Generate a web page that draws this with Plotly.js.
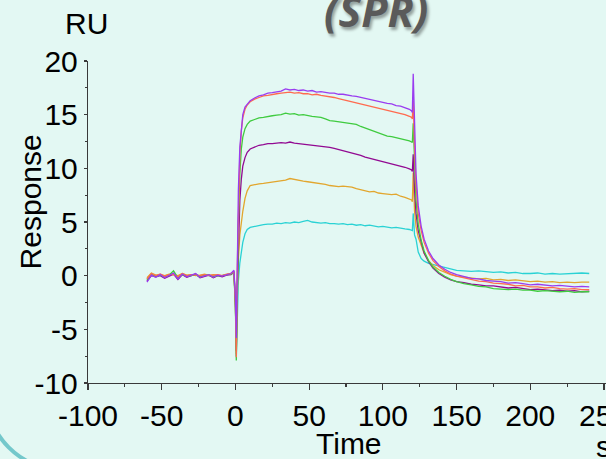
<!DOCTYPE html>
<html>
<head>
<meta charset="utf-8">
<script src="https://cdn.plot.ly/plotly-3.0.1.min.js"></script>
<style>
html,body{margin:0;padding:0;width:606px;height:459px;overflow:hidden;background:#e3f8f3;}
#frame{position:absolute;left:-15px;top:-300px;width:900px;height:771px;border:4px solid #74c8cb;border-radius:76px;box-sizing:border-box;}
#plot{position:absolute;left:0;top:0;width:606px;height:459px;}
</style>
</head>
<body>
<div id="frame"></div>
<div id="plot"></div>
<script>
// Time (s)
const time = [
  -60,-57,-54,-51,-48,-45,-42,-39,-36,-33,-30,-27,-24,-21,-18,-15,-12,-9,-6,-3,-1,
  0,0.6,1.2,2,3,4,5,6.5,8,10,
  13,16,19,22,25,28,31,34,37,40,43,46,49,52,55,58,61,64,67,70,73,76,79,82,85,88,91,94,97,100,103,106,109,112,115,118,119.5,
  120,120.6,121.5,122.5,124,126,128,131,134,138,142,146,150,
  155,160,165,170,175,180,185,190,195,200,205,210,215,220,225,230,235,240
];
// Response (RU) per concentration
const seriesPurple = [
  -0.6,0.05,-0.15,0.1,-0.2,0.0,0.25,-0.3,0.15,-0.1,0.05,0.2,-0.15,0.0,0.1,-0.15,0.05,-0.05,0.1,0.2,0.5,
  -2.0,-5.8,2.0,8.0,12.0,14.0,15.0,15.7,16.0,16.3,
  16.55,16.75,16.85,17.0,17.05,17.15,17.2,17.4,17.3,17.35,17.25,17.3,17.2,17.25,17.1,17.15,17.05,17.0,17.0,16.9,16.9,16.8,16.75,16.7,16.6,16.55,16.45,16.35,16.25,16.15,16.05,16.0,15.85,15.8,15.65,15.5,15.35,
  15.2,18.8,13.0,9.5,6.5,4.6,3.4,2.3,1.6,1.0,0.6,0.3,0.1,
  -0.1,-0.25,-0.3,-0.45,-0.5,-0.55,-0.7,-0.65,-0.75,-0.85,-0.8,-0.9,-0.95,-0.9,-1.0,-1.05,-1.0,-1.05
];
const seriesTomato = [
  -0.3,0.2,0.0,0.15,-0.05,0.1,0.1,-0.1,0.2,0.0,0.1,0.05,0.0,0.1,0.0,0.05,0.1,0.0,0.15,0.2,0.4,
  -2.5,-7.6,0.5,7.0,11.3,13.5,14.7,15.5,15.9,16.2,
  16.45,16.6,16.75,16.8,16.9,16.95,17.0,17.05,17.1,17.0,17.05,16.95,16.95,16.85,16.9,16.8,16.75,16.65,16.6,16.5,16.4,16.35,16.25,16.15,16.05,15.95,15.85,15.75,15.6,15.5,15.4,15.3,15.25,15.1,15.0,14.85,14.75,
  14.6,16.3,12.0,8.5,5.8,4.2,3.1,2.1,1.4,0.85,0.45,0.15,-0.05,
  -0.2,-0.35,-0.5,-0.55,-0.7,-0.75,-0.8,-0.95,-0.9,-1.05,-1.05,-1.15,-1.1,-1.2,-1.25,-1.2,-1.3,-1.3
];
const seriesGreen = [
  -0.4,0.1,-0.05,0.05,-0.1,0.05,0.45,-0.2,0.1,-0.05,0.0,0.1,-0.1,0.05,0.05,-0.1,0.0,0.0,0.1,0.15,0.3,
  -3.0,-7.9,-1.0,5.0,9.5,11.8,12.9,13.7,14.1,14.4,
  14.55,14.7,14.75,14.85,14.9,14.95,15.0,15.15,15.05,15.1,14.95,15.0,14.9,14.85,14.8,14.75,14.6,14.45,14.4,14.35,14.3,14.25,14.15,14.1,13.9,13.75,13.6,13.5,13.3,13.15,13.0,12.95,12.85,12.8,12.65,12.55,12.45,
  12.4,14.2,10.0,7.0,4.8,3.3,2.3,1.4,0.8,0.3,-0.05,-0.35,-0.55,
  -0.75,-0.85,-1.0,-1.05,-1.2,-1.25,-1.3,-1.25,-1.35,-1.35,-1.45,-1.4,-1.45,-1.5,-1.45,-1.55,-1.5,-1.5
];
const seriesMagenta = [
  -0.5,0.0,-0.1,0.0,-0.25,-0.05,0.15,-0.35,0.1,-0.15,0.0,0.15,-0.2,-0.05,0.05,-0.2,0.0,-0.1,0.05,0.1,0.35,
  -2.5,-7.0,-1.5,3.5,7.0,9.0,10.2,11.0,11.5,11.8,
  12.0,12.15,12.2,12.3,12.3,12.35,12.4,12.35,12.45,12.35,12.3,12.25,12.2,12.15,12.1,12.1,12.0,11.95,11.85,11.75,11.65,11.55,11.4,11.35,11.2,11.05,10.95,10.85,10.7,10.6,10.5,10.4,10.3,10.2,10.1,9.95,9.85,
  9.7,11.3,8.0,5.8,4.2,3.0,2.1,1.3,0.7,0.2,-0.15,-0.4,-0.55,
  -0.65,-0.8,-0.85,-0.95,-0.95,-1.05,-1.15,-1.1,-1.2,-1.3,-1.25,-1.35,-1.4,-1.35,-1.45,-1.4,-1.5,-1.45
];
const seriesOrange = [
  -0.2,0.25,0.05,0.1,0.0,0.15,0.1,0.0,0.2,0.05,0.1,0.0,0.05,0.15,0.05,0.1,0.05,0.0,0.1,0.15,0.25,
  -2.7,-7.3,-2.5,1.5,3.8,5.0,6.0,7.2,7.9,8.4,
  8.5,8.55,8.6,8.65,8.7,8.75,8.85,8.9,9.05,8.95,8.85,8.8,8.75,8.7,8.65,8.6,8.5,8.4,8.35,8.3,8.35,8.3,8.25,8.1,8.0,7.9,7.8,7.85,7.7,7.65,7.6,7.55,7.6,7.4,7.3,7.15,7.05,
  6.9,9.6,6.0,4.6,3.6,2.8,2.1,1.4,0.95,0.55,0.3,0.1,-0.05,
  -0.15,-0.2,-0.3,-0.25,-0.4,-0.35,-0.45,-0.4,-0.5,-0.55,-0.5,-0.6,-0.55,-0.65,-0.6,-0.65,-0.6,-0.6
];
const seriesCyan = [
  -0.3,0.1,0.0,0.05,-0.05,0.1,0.2,-0.1,0.15,0.0,0.05,0.1,-0.05,0.05,0.0,0.0,0.05,0.0,0.1,0.15,0.3,
  -2.8,-7.5,-3.5,-0.5,1.2,2.4,3.1,3.9,4.3,4.5,
  4.6,4.7,4.75,4.8,4.8,4.9,4.85,4.95,4.9,5.0,4.95,5.05,5.15,5.0,4.95,4.9,4.95,4.85,4.85,4.8,4.85,4.75,4.8,4.7,4.75,4.65,4.7,4.6,4.55,4.6,4.5,4.45,4.5,4.4,4.35,4.3,4.25,
  4.2,5.8,3.8,3.4,2.2,1.6,1.35,1.15,1.05,0.9,0.75,0.6,0.5,
  0.45,0.4,0.45,0.35,0.3,0.35,0.25,0.3,0.2,0.2,0.25,0.15,0.2,0.15,0.2,0.2,0.25,0.2
];
const xTickVals = [-100,-50,0,50,100,150,200,250];
const xTickText = ['-100','-50','0','50','100','150','200','250'];
const yTickVals = [-10,-5,0,5,10,15,20];
const yTickText = ['-10','-5','0','5','10','15','20'];

const seriesList = [
  {y: seriesCyan, color: '#2ad2d4'},
  {y: seriesOrange, color: '#e2a62e'},
  {y: seriesMagenta, color: '#920a92'},
  {y: seriesGreen, color: '#3fcb3f'},
  {y: seriesTomato, color: '#ff6b4f'},
  {y: seriesPurple, color: '#9a3cf0'}
];
const traces = seriesList.map(s => ({
  x: time, y: s.y, type: 'scatter', mode: 'lines',
  line: {color: s.color, width: 1.3}, hoverinfo: 'skip', showlegend: false
}));

const L = 87.8, T = 60.7, W = 518.2, H = 322.3;
const px = v => (v - L) / W;
const py = v => (T + H - v) / H;
const font = {family: 'Arial, "Liberation Sans", sans-serif', size: 30, color: '#000'};

const layout = {
  width: 606, height: 459,
  margin: {l: L, r: 606 - L - W, t: T, b: 459 - T - H, autoexpand: false},
  paper_bgcolor: 'rgba(0,0,0,0)', plot_bgcolor: 'rgba(0,0,0,0)',
  showlegend: false,
  xaxis: {
    range: [-100, -100 + W / 1.4748], tickmode: 'array', tickvals: xTickVals, ticktext: xTickText,
    showgrid: false, zeroline: false, showline: true, linecolor: '#3a3a3a', linewidth: 1.2,
    ticks: 'outside', ticklen: 6, tickcolor: '#3a3a3a', tickwidth: 1.2, tickfont: font,
    ticklabeloverflow: 'allow',
    minor: {tickmode: 'linear', tick0: 0, dtick: 25, ticks: 'outside', ticklen: 3, tickcolor: '#3a3a3a', showgrid: false},
    automargin: false
  },
  yaxis: {
    range: [-10, 20], tickmode: 'array', tickvals: yTickVals, ticktext: yTickText,
    showgrid: false, zeroline: false, showline: true, linecolor: '#3a3a3a', linewidth: 1.2,
    ticks: 'outside', ticklen: 3, tickcolor: '#3a3a3a', tickwidth: 1.2, tickfont: font,
    ticklabeloverflow: 'allow',
    minor: {tickmode: 'linear', tick0: 0, dtick: 2.5, ticks: 'outside', ticklen: 2, tickcolor: '#3a3a3a', showgrid: false},
    automargin: false
  },
  annotations: [
    {text: 'RU', xref: 'paper', yref: 'paper', x: px(86.5), y: py(23), xanchor: 'center', yanchor: 'middle', showarrow: false, font: font},
    {text: 'Response', xref: 'paper', yref: 'paper', x: px(30), y: py(202), xanchor: 'center', yanchor: 'middle', textangle: -90, showarrow: false, font: font},
    {text: 'Time', xref: 'paper', yref: 'paper', x: px(349), y: py(444), xanchor: 'center', yanchor: 'middle', showarrow: false, font: font},
    {text: 's', xref: 'paper', yref: 'paper', x: px(594), y: py(447), xanchor: 'left', yanchor: 'middle', showarrow: false, font: font},
    {text: '(SPR)', xref: 'paper', yref: 'paper', x: px(375.5), y: py(10), xanchor: 'center', yanchor: 'middle', showarrow: false,
     font: {family: '"Open Sans", sans-serif', size: 43, color: '#5a5a5a', weight: 'bold', style: 'italic', shadow: '2px 3px 3px rgba(0,0,0,0.35)'}}
  ]
};

Plotly.newPlot('plot', traces, layout, {staticPlot: true, displayModeBar: false});
</script>
</body>
</html>
